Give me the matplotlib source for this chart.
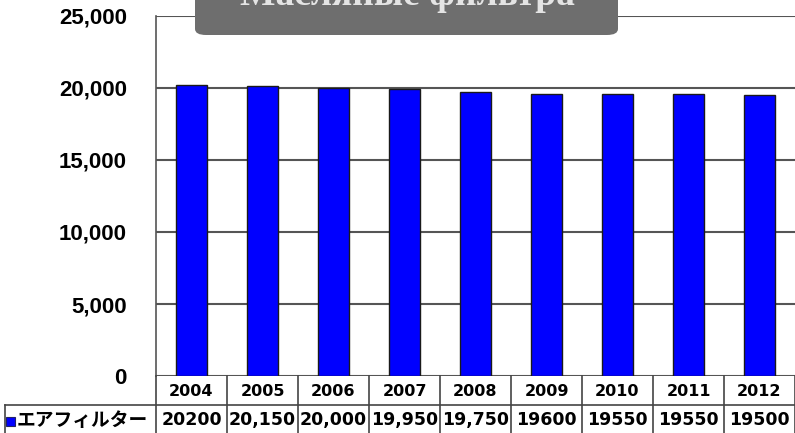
import matplotlib.pyplot as plt
from matplotlib.patches import FancyBboxPatch, Rectangle
from matplotlib.lines import Line2D
import matplotlib.transforms as mtransforms

# data
years = ["2004", "2005", "2006", "2007", "2008", "2009", "2010", "2011", "2012"]
values = [20200, 20150, 20000, 19950, 19750, 19600, 19550, 19550, 19500]
value_labels = ["20200", "20,150", "20,000", "19,950", "19,750",
                "19600", "19550", "19550", "19500"]
series_name = "エアフィルター"
title = "Масляные фильтра"
yticks = [0, 5000, 10000, 15000, 20000, 25000]

W, H = 795, 433
fig = plt.figure(figsize=(W / 100, H / 100), dpi=100)


def fy(py):
    # pixel row (from top) -> figure fraction
    return 1 - py / H


ax = fig.add_axes([156 / W, fy(376), (795 - 156) / W, (376 - 16) / H])
x = range(len(years))
ax.bar(x, values, width=0.44, color="#0000ff", edgecolor="#1a1a1a",
       linewidth=1, zorder=3)
ax.set_xlim(-0.5, len(years) - 0.5)
ax.set_ylim(0, 25000)
ax.set_yticks(yticks)
ax.set_yticklabels([f"{v:,}" for v in yticks], fontfamily="Liberation Sans",
                   fontweight="bold", fontsize=16)
ax.tick_params(axis="y", length=0, pad=21)
ax.set_xticks([])
ax.grid(axis="y", color="#555555", linewidth=1.5, zorder=1)
for s in ["top", "right", "bottom"]:
    ax.spines[s].set_visible(False)
ax.spines["left"].set_color("#555555")
ax.spines["left"].set_linewidth(1.2)

# data table under the axis
tr = mtransforms.blended_transform_factory(ax.transData, fig.transFigure)
lc = "#444444"
for i in range(len(years) + 1):
    fig.add_artist(Line2D([i - 0.5, i - 0.5], [fy(376), 0], transform=tr,
                          color=lc, linewidth=1.2))
fig.add_artist(Line2D([5 / W, 1], [fy(405), fy(405)], transform=fig.transFigure,
                      color=lc, linewidth=1.2))
fig.add_artist(Line2D([5 / W, 5 / W], [fy(405), 0], transform=fig.transFigure,
                      color=lc, linewidth=1.2))
for i, (yr, lab) in enumerate(zip(years, value_labels)):
    fig.text(i, fy(391), yr, transform=tr, ha="center", va="center",
             fontfamily="DejaVu Sans", fontweight="bold", fontsize=11.5)
    fig.text(i, fy(420), lab, transform=tr, ha="center", va="center",
             fontfamily="DejaVu Sans", fontweight="bold", fontsize=12.5)

fig.add_artist(Rectangle((6 / W, fy(426)), 9 / W, 9 / H, transform=fig.transFigure,
                         facecolor="#0000ff", edgecolor="#222266", linewidth=0.8))
fig.text(17 / W, fy(420), series_name, ha="left", va="center",
         fontfamily=["Noto Sans CJK JP", "DejaVu Sans"], fontweight="bold",
         fontsize=13.5)

# title box, partly cut off at the top
fig.add_artist(FancyBboxPatch((200 / W, fy(32)), (423 - 10) / W, 60 / H,
                              boxstyle="round,pad=0,rounding_size=0.012",
                              transform=fig.transFigure, facecolor="#d4d4d4",
                              edgecolor="none", alpha=0.7))
fig.add_artist(FancyBboxPatch((195 / W, fy(35)), 423 / W, 60 / H,
                              boxstyle="round,pad=0,rounding_size=0.014",
                              transform=fig.transFigure, facecolor="#6e6e6e",
                              edgecolor="none"))
fig.text(407 / W, fy(5), title, ha="center", va="baseline",
         fontfamily="Liberation Serif", fontweight="bold", fontsize=27,
         color="#e4e4e4")

fig.savefig("out.png", dpi=100)
